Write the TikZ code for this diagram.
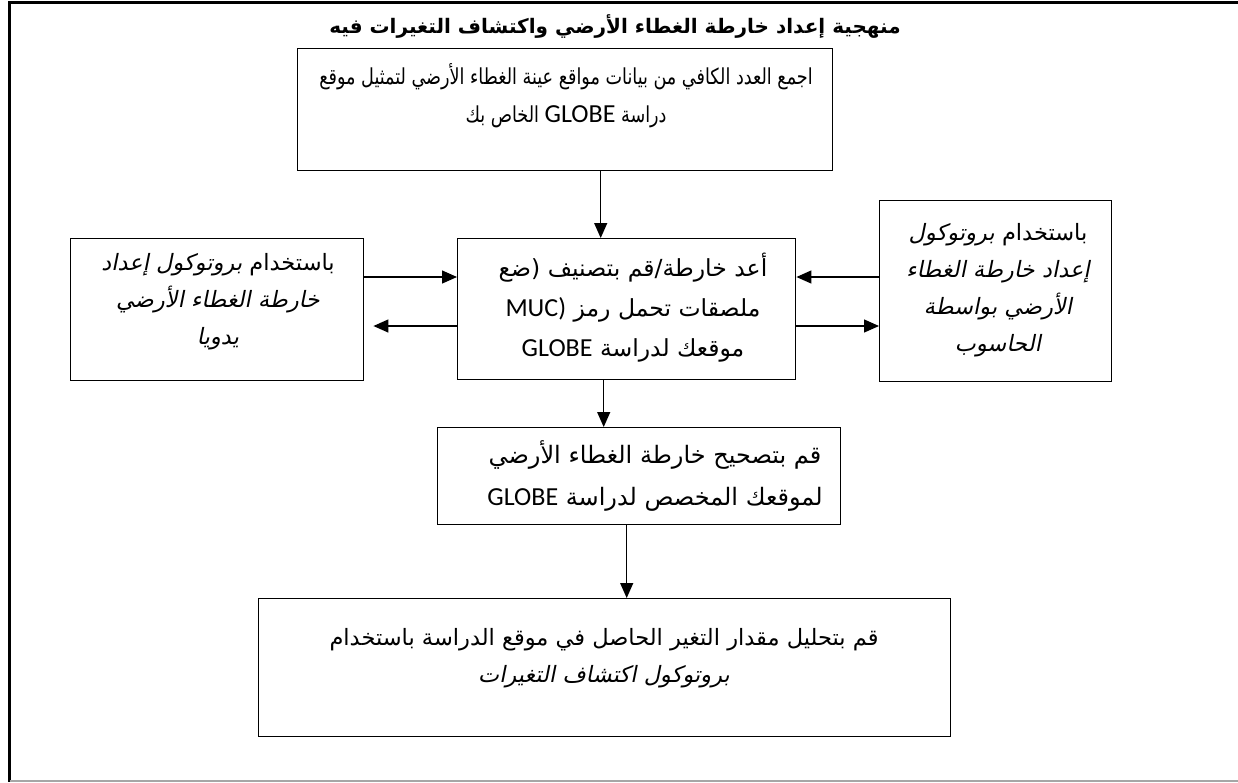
\documentclass[tikz,border=0pt]{standalone}
\usepackage{fontspec}
\usetikzlibrary{arrows.meta}
\TeXXeTstate=1
\newfontfamily\arf[Script=Arabic]{DejaVu Sans}
\newfontfamily\arn[Script=Arabic,FakeStretch=0.8]{DejaVu Sans}
\newfontfamily\arit[Script=Arabic,FakeSlant=0.2]{DejaVu Sans}
\newfontfamily\arbd[Script=Arabic]{DejaVu Sans Bold}
\newfontfamily\latf{Carlito}
\newcommand{\rtlline}[1]{\beginR #1\endR}
\newcommand{\ltrword}[1]{\beginL{\latf\fontsize{26}{30}\selectfont #1}\endL}
\tikzset{
  box/.style={draw, line width=1.4pt, rectangle, inner sep=0pt},
  txt/.style={align=center, inner sep=0pt, font=\arf\fontsize{22.5}{37}\selectfont},
  arr/.style={-{Triangle[length=15pt,width=13pt]}, line width=1.3pt},
}
\begin{document}
\begin{tikzpicture}[x=1pt,y=-1pt]
\useasboundingbox (0,0) rectangle (1238,782);
% outer frame
\draw[line width=3pt] (1238,2) -- (9.5,2) -- (9.5,782);
\draw[line width=1.5pt, black!35] (9.5,781.2) -- (1238,781.2);
% title
\node[inner sep=0pt, font=\arbd\fontsize{20}{22}\selectfont] (title) at (615,27) {\rtlline{منهجية إعداد خارطة الغطاء الأرضي واكتشاف التغيرات فيه}};
% boxes
\node[box, anchor=north west, minimum width=535pt, minimum height=122pt] (b1) at (297,48) {};
\node[box, anchor=north west, minimum width=338pt, minimum height=141pt] (bc) at (457,238) {};
\node[box, anchor=north west, minimum width=293pt, minimum height=142pt] (bl) at (70,238) {};
\node[box, anchor=north west, minimum width=232pt, minimum height=181pt] (br) at (879,200) {};
\node[box, anchor=north west, minimum width=403pt, minimum height=97pt] (bk) at (437,427) {};
\node[box, anchor=north west, minimum width=692pt, minimum height=138pt] (bf) at (258,598) {};
% texts
\node[txt, font=\arn\fontsize{22}{38}\selectfont] (t1) at (566,96) {\rtlline{اجمع العدد الكافي من بيانات مواقع عينة الغطاء الأرضي لتمثيل موقع}\\
  \rtlline{دراسة \ltrword{GLOBE} الخاص بك}};
\node[txt, font=\arf\fontsize{23.5}{40}\selectfont] (tc) at (633,308) {\rtlline{أعد خارطة/قم بتصنيف (ضع}\\
  \rtlline{ملصقات تحمل رمز \ltrword{MUC)}}\\
  \rtlline{موقعك لدراسة \ltrword{GLOBE}}};
\node[txt] (tl) at (218,302) {\rtlline{باستخدام {\arit بروتوكول إعداد}}\\
  \rtlline{{\arit خارطة الغطاء الأرضي}}\\
  \rtlline{{\arit يدويا}}};
\node[txt] (tr) at (998,290) {\rtlline{باستخدام {\arit بروتوكول}}\\
  \rtlline{{\arit إعداد خارطة الغطاء}}\\
  \rtlline{{\arit الأرضي بواسطة}}\\
  \rtlline{{\arit الحاسوب}}};
\node[txt, font=\arf\fontsize{24}{42}\selectfont] (tk) at (655,476) {\rtlline{قم بتصحيح خارطة الغطاء الأرضي}\\
  \rtlline{لموقعك المخصص لدراسة \ltrword{GLOBE}}};
\node[txt] (tf) at (604,658) {\rtlline{قم بتحليل مقدار التغير الحاصل في موقع الدراسة باستخدام}\\
  \rtlline{{\arit بروتوكول اكتشاف التغيرات}}};
% arrows
\draw[arr] ([xshift=35.5pt]b1.south) -- ([xshift=35.5pt]b1.south |- bc.north);
\draw[arr] ([yshift=-39pt]bl.north east) -- ([yshift=-39pt]bl.north east -| bc.west);
\draw[arr, shorten >=9pt] ([yshift=-88pt]bc.north west) -- ([yshift=-88pt]bc.north west -| bl.east);
\draw[arr] ([yshift=-77pt]br.north west) -- ([yshift=-77pt]br.north west -| bc.east);
\draw[arr] ([yshift=-126pt]br.north west -| bc.east) -- ([yshift=-126pt]br.north west);
\draw[arr] ([xshift=-23pt]bc.south) -- ([xshift=-23pt]bc.south |- bk.north);
\draw[arr] ([xshift=-12.5pt]bk.south) -- ([xshift=-12.5pt]bk.south |- bf.north);
\end{tikzpicture}
\end{document}
